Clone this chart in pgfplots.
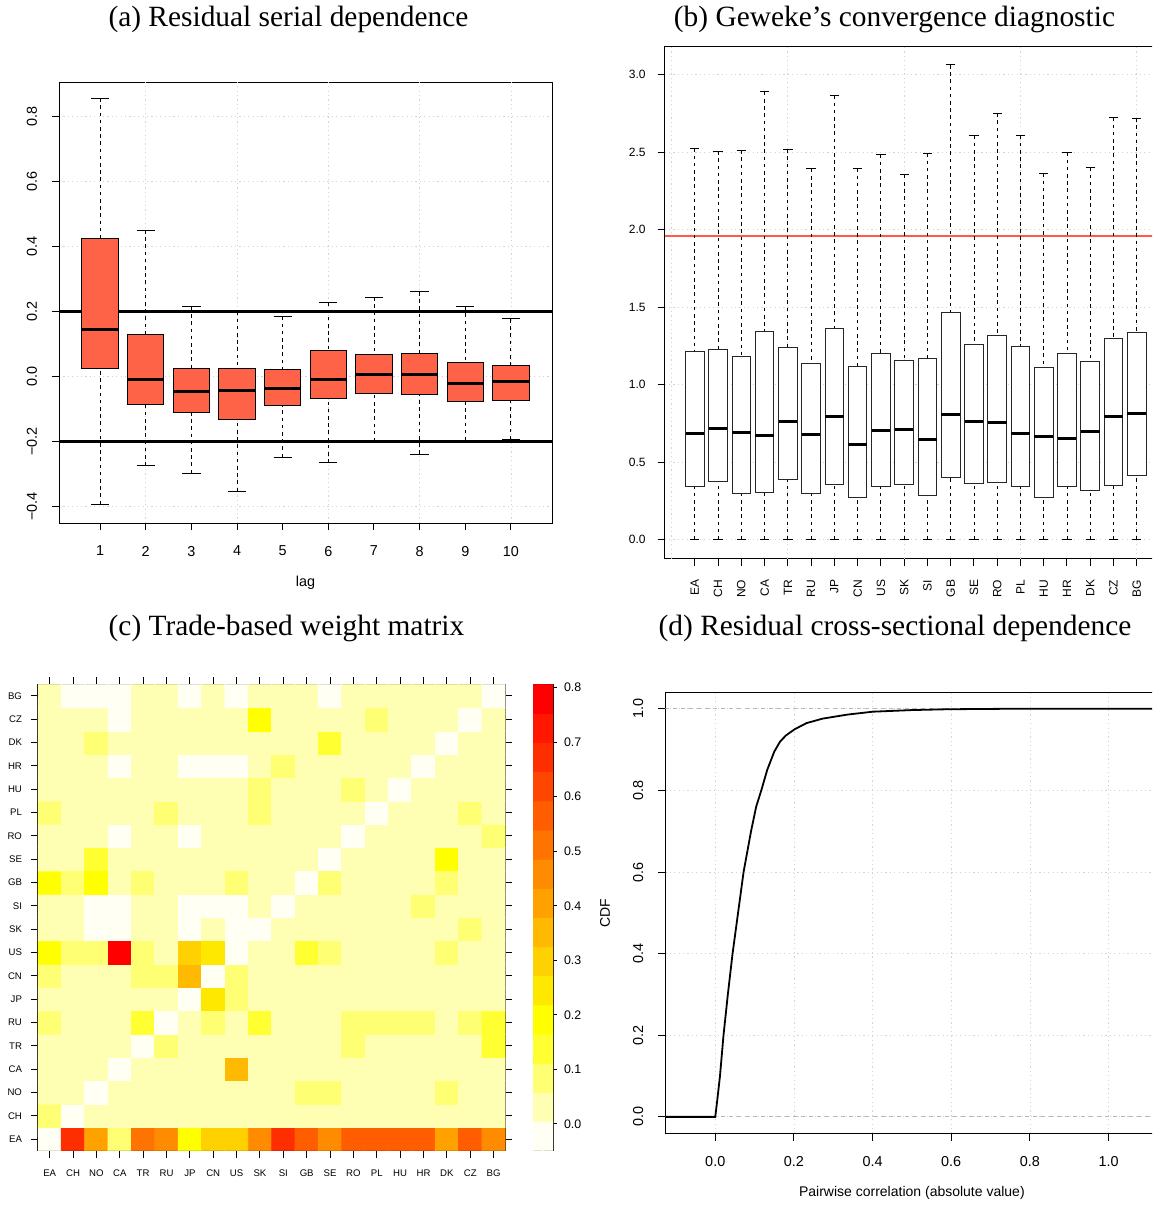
\documentclass[border=0pt]{standalone}
\usepackage{fontspec}
\setmainfont{Liberation Serif}
\setsansfont{Liberation Sans}
\usepackage{pgfplots}
\pgfplotsset{compat=1.18}
\usepgfplotslibrary{statistics}

\definecolor{tomato}{HTML}{FF6347}
\definecolor{gridgray}{HTML}{D3D3D3}
\definecolor{refline}{HTML}{FF5A45}

\newcommand{\ticksize}[1]{\sffamily\fontsize{#1}{#1}\selectfont}

\tikzset{rwhisker/.style={black, line width=0.45pt, dash pattern=on 1.8pt off 1.8pt},
         rcap/.style={black, line width=0.5pt, solid}}

\pgfplotsset{
  colormap={heat}{rgb255=(255,255,243) rgb255=(255,255,180) rgb255=(255,255,115)
    rgb255=(255,255,50) rgb255=(255,255,0) rgb255=(255,232,0) rgb255=(255,209,0)
    rgb255=(255,185,0) rgb255=(255,162,0) rgb255=(255,139,0) rgb255=(255,116,0)
    rgb255=(255,93,0) rgb255=(255,70,0) rgb255=(255,46,0) rgb255=(255,23,0) rgb255=(255,0,0)},
  boxplot/draw/lower whisker/.code={%
    \draw[rwhisker] (boxplot cs:\pgfplotsboxplotvalue{lower whisker})
      -- (boxplot cs:\pgfplotsboxplotvalue{lower quartile});
    \draw[rcap] (boxplot whisker cs:\pgfplotsboxplotvalue{lower whisker},0)
      -- (boxplot whisker cs:\pgfplotsboxplotvalue{lower whisker},1);
  },
  boxplot/draw/upper whisker/.code={%
    \draw[rwhisker] (boxplot cs:\pgfplotsboxplotvalue{upper whisker})
      -- (boxplot cs:\pgfplotsboxplotvalue{upper quartile});
    \draw[rcap] (boxplot whisker cs:\pgfplotsboxplotvalue{upper whisker},0)
      -- (boxplot whisker cs:\pgfplotsboxplotvalue{upper whisker},1);
  },
  rbase/.style={scale only axis, anchor=north west,
    axis line style={black, line width=0.5pt},
    tick align=outside, tick pos=left, major tick length=3.5pt,
    tick style={black, line width=0.5pt},
    grid style={gridgray, line width=0.4pt, dash pattern=on 0.6pt off 1.6pt}},
}

% position, lower whisker, lower quartile, median, upper quartile, upper whisker
\newcommand{\bx}[6]{\addplot[boxplot prepared={draw direction=y, draw position=#1,
  lower whisker=#2, lower quartile=#3, median=#4, upper quartile=#5,
  upper whisker=#6}] coordinates {};}

\begin{document}
\begin{tikzpicture}
\useasboundingbox (0,0) rectangle (576pt,-602.5pt);
\clip (0,0) rectangle (576pt,-602.5pt);

% (a) residual serial dependence
\begin{axis}[rbase, at={(29.5pt,-41pt)}, width=246.5pt, height=220.5pt,
  xmin=0.1, xmax=10.9, ymin=-0.45, ymax=0.905,
  xtick={1,2,3,4,5,6,7,8,9,10},
  xticklabels={1,2,3,4,5,6,7,8,9,10},
  ytick={-0.4,-0.2,0,0.2,0.4,0.6,0.8},
  yticklabels={−0.4,−0.2,0.0,0.2,0.4,0.6,0.8},
  tick label style={font=\ticksize{7.2}}, label style={font=\ticksize{7.2}},
  yticklabel style={rotate=90, anchor=south},
  xticklabel shift=4.5pt, yticklabel shift=4pt,
  ymajorgrids,
  extra x ticks={2,4,6,8,10}, extra x tick labels={},
  extra x tick style={grid=major, major tick length=0pt},
  xlabel={lag}, xlabel style={at={(axis description cs:0.5,-0.136)}, anchor=center},
  boxplot/box extend=0.8, boxplot/whisker extend=0.4,
  boxplot/every box/.style={fill=tomato, draw=black, line width=0.5pt},
  boxplot/every median/.style={black, line width=1.5pt}]
\addplot[black, line width=1.3pt] coordinates {(0.1,0.2) (10.9,0.2)};
\addplot[black, line width=1.3pt] coordinates {(0.1,-0.2) (10.9,-0.2)};
\bx{1}{-0.392}{0.024}{0.146}{0.425}{0.855}
\bx{2}{-0.274}{-0.087}{-0.010}{0.130}{0.450}
\bx{3}{-0.297}{-0.111}{-0.047}{0.024}{0.214}
\bx{4}{-0.352}{-0.132}{-0.043}{0.026}{0.200}
\bx{5}{-0.248}{-0.089}{-0.036}{0.021}{0.185}
\bx{6}{-0.265}{-0.066}{-0.009}{0.079}{0.228}
\bx{7}{-0.200}{-0.052}{0.005}{0.067}{0.244}
\bx{8}{-0.238}{-0.055}{0.007}{0.072}{0.260}
\bx{9}{-0.197}{-0.077}{-0.021}{0.044}{0.216}
\bx{10}{-0.193}{-0.073}{-0.015}{0.033}{0.177}
\end{axis}

% (b) Geweke diagnostic
\begin{axis}[rbase, at={(332.3pt,-23pt)}, width=251.2pt, height=256.3pt,
  xmin=-0.3, xmax=21.3, ymin=-0.122, ymax=3.184,
  xtick={1,2,3,4,5,6,7,8,9,10,11,12,13,14,15,16,17,18,19,20},
  xticklabels={EA,CH,NO,CA,TR,RU,JP,CN,US,SK,SI,GB,SE,RO,PL,HU,HR,DK,CZ,BG},
  ytick={0,0.5,1,1.5,2,2.5,3},
  yticklabels={0.0,0.5,1.0,1.5,2.0,2.5,3.0},
  tick label style={font=\ticksize{6}},
  xticklabel style={rotate=90, anchor=east},
  xticklabel shift=3.5pt, yticklabel shift=2.5pt,
  ymajorgrids,
  extra x ticks={0,5,10,15,20}, extra x tick labels={},
  extra x tick style={grid=major, major tick length=0pt},
  boxplot/box extend=0.8, boxplot/whisker extend=0.4,
  boxplot/every box/.style={fill=white, draw=black!85, line width=0.5pt},
  boxplot/every median/.style={black, line width=1.5pt}]
\addplot[refline, line width=0.8pt] coordinates {(-0.3,1.96) (21.3,1.96)};
\bx{1}{0}{0.346}{0.687}{1.212}{2.523}
\bx{2}{0}{0.376}{0.719}{1.226}{2.505}
\bx{3}{0}{0.300}{0.691}{1.184}{2.512}
\bx{4}{0}{0.306}{0.673}{1.341}{2.889}
\bx{5}{0}{0.385}{0.760}{1.240}{2.518}
\bx{6}{0}{0.295}{0.680}{1.134}{2.392}
\bx{7}{0}{0.355}{0.793}{1.362}{2.866}
\bx{8}{0}{0.274}{0.613}{1.120}{2.394}
\bx{9}{0}{0.346}{0.705}{1.203}{2.484}
\bx{10}{0}{0.357}{0.710}{1.154}{2.353}
\bx{11}{0}{0.286}{0.647}{1.168}{2.491}
\bx{12}{0}{0.403}{0.806}{1.465}{3.062}
\bx{13}{0}{0.364}{0.763}{1.260}{2.606}
\bx{14}{0}{0.371}{0.756}{1.320}{2.751}
\bx{15}{0}{0.346}{0.684}{1.249}{2.606}
\bx{16}{0}{0.274}{0.666}{1.108}{2.362}
\bx{17}{0}{0.343}{0.654}{1.203}{2.498}
\bx{18}{0}{0.318}{0.696}{1.147}{2.401}
\bx{19}{0}{0.350}{0.793}{1.297}{2.723}
\bx{20}{0}{0.412}{0.813}{1.334}{2.719}
\end{axis}

% (c) trade-based weight matrix
\begin{axis}[scale only axis, anchor=north west, at={(19pt,-342.15pt)},
  width=233.65pt, height=233.2pt,
  xmin=-0.5, xmax=19.5, ymin=-0.5, ymax=19.5,
  axis line style={black, line width=0.5pt},
  tick align=outside, xtick pos=both, ytick pos=both,
  major tick length=3.5pt, tick style={black, line width=0.5pt},
  xtick={0,1,2,3,4,5,6,7,8,9,10,11,12,13,14,15,16,17,18,19},
  ytick={0,1,2,3,4,5,6,7,8,9,10,11,12,13,14,15,16,17,18,19},
  xticklabels={EA,CH,NO,CA,TR,RU,JP,CN,US,SK,SI,GB,SE,RO,PL,HU,HR,DK,CZ,BG},
  yticklabels={EA,CH,NO,CA,TR,RU,JP,CN,US,SK,SI,GB,SE,RO,PL,HU,HR,DK,CZ,BG},
  tick label style={font=\ticksize{4.8}},
  xticklabel shift=2.4pt, yticklabel shift=1pt,
  colormap name=heat, point meta min=0, point meta max=0.78]
\addplot[matrix plot*, mesh/cols=20, point meta=explicit] coordinates {
(0,0)[0] (1,0)[0.676] (2,0)[0.416] (3,0)[0.104] (4,0)[0.52] (5,0)[0.468] (6,0)[0.208] (7,0)[0.312] (8,0)[0.312] (9,0)[0.468] (10,0)[0.676] (11,0)[0.572] (12,0)[0.468] (13,0)[0.572] (14,0)[0.572] (15,0)[0.572] (16,0)[0.572] (17,0)[0.416] (18,0)[0.572] (19,0)[0.468]
(0,1)[0.104] (1,1)[0] (2,1)[0.052] (3,1)[0.052] (4,1)[0.052] (5,1)[0.052] (6,1)[0.052] (7,1)[0.052] (8,1)[0.052] (9,1)[0.052] (10,1)[0.052] (11,1)[0.052] (12,1)[0.052] (13,1)[0.052] (14,1)[0.052] (15,1)[0.052] (16,1)[0.052] (17,1)[0.052] (18,1)[0.052] (19,1)[0.052]
(0,2)[0.052] (1,2)[0.052] (2,2)[0] (3,2)[0.052] (4,2)[0.052] (5,2)[0.052] (6,2)[0.052] (7,2)[0.052] (8,2)[0.052] (9,2)[0.052] (10,2)[0.052] (11,2)[0.104] (12,2)[0.104] (13,2)[0.052] (14,2)[0.052] (15,2)[0.052] (16,2)[0.052] (17,2)[0.104] (18,2)[0.052] (19,2)[0.052]
(0,3)[0.052] (1,3)[0.052] (2,3)[0.052] (3,3)[0] (4,3)[0.052] (5,3)[0.052] (6,3)[0.052] (7,3)[0.052] (8,3)[0.364] (9,3)[0.052] (10,3)[0.052] (11,3)[0.052] (12,3)[0.052] (13,3)[0.052] (14,3)[0.052] (15,3)[0.052] (16,3)[0.052] (17,3)[0.052] (18,3)[0.052] (19,3)[0.052]
(0,4)[0.052] (1,4)[0.052] (2,4)[0.052] (3,4)[0.052] (4,4)[0] (5,4)[0.104] (6,4)[0.052] (7,4)[0.052] (8,4)[0.052] (9,4)[0.052] (10,4)[0.052] (11,4)[0.052] (12,4)[0.052] (13,4)[0.104] (14,4)[0.052] (15,4)[0.052] (16,4)[0.052] (17,4)[0.052] (18,4)[0.052] (19,4)[0.156]
(0,5)[0.104] (1,5)[0.052] (2,5)[0.052] (3,5)[0.052] (4,5)[0.156] (5,5)[0] (6,5)[0.052] (7,5)[0.104] (8,5)[0.052] (9,5)[0.156] (10,5)[0.052] (11,5)[0.052] (12,5)[0.052] (13,5)[0.104] (14,5)[0.104] (15,5)[0.104] (16,5)[0.104] (17,5)[0.052] (18,5)[0.104] (19,5)[0.156]
(0,6)[0.052] (1,6)[0.052] (2,6)[0.052] (3,6)[0.052] (4,6)[0.052] (5,6)[0.052] (6,6)[0] (7,6)[0.26] (8,6)[0.104] (9,6)[0.052] (10,6)[0.052] (11,6)[0.052] (12,6)[0.052] (13,6)[0.052] (14,6)[0.052] (15,6)[0.052] (16,6)[0.052] (17,6)[0.052] (18,6)[0.052] (19,6)[0.052]
(0,7)[0.104] (1,7)[0.052] (2,7)[0.052] (3,7)[0.052] (4,7)[0.104] (5,7)[0.104] (6,7)[0.364] (7,7)[0] (8,7)[0.104] (9,7)[0.052] (10,7)[0.052] (11,7)[0.052] (12,7)[0.052] (13,7)[0.052] (14,7)[0.052] (15,7)[0.052] (16,7)[0.052] (17,7)[0.052] (18,7)[0.052] (19,7)[0.052]
(0,8)[0.208] (1,8)[0.104] (2,8)[0.104] (3,8)[0.78] (4,8)[0.104] (5,8)[0.052] (6,8)[0.312] (7,8)[0.26] (8,8)[0] (9,8)[0.052] (10,8)[0.052] (11,8)[0.156] (12,8)[0.104] (13,8)[0.052] (14,8)[0.052] (15,8)[0.052] (16,8)[0.052] (17,8)[0.104] (18,8)[0.052] (19,8)[0.052]
(0,9)[0.052] (1,9)[0.052] (2,9)[0] (3,9)[0] (4,9)[0.052] (5,9)[0.052] (6,9)[0] (7,9)[0.052] (8,9)[0] (9,9)[0] (10,9)[0.052] (11,9)[0.052] (12,9)[0.052] (13,9)[0.052] (14,9)[0.052] (15,9)[0.052] (16,9)[0.052] (17,9)[0.052] (18,9)[0.104] (19,9)[0.052]
(0,10)[0.052] (1,10)[0.052] (2,10)[0] (3,10)[0] (4,10)[0.052] (5,10)[0.052] (6,10)[0] (7,10)[0] (8,10)[0] (9,10)[0.052] (10,10)[0] (11,10)[0.052] (12,10)[0.052] (13,10)[0.052] (14,10)[0.052] (15,10)[0.052] (16,10)[0.104] (17,10)[0.052] (18,10)[0.052] (19,10)[0.052]
(0,11)[0.208] (1,11)[0.104] (2,11)[0.208] (3,11)[0.052] (4,11)[0.104] (5,11)[0.052] (6,11)[0.052] (7,11)[0.052] (8,11)[0.104] (9,11)[0.052] (10,11)[0.052] (11,11)[0] (12,11)[0.104] (13,11)[0.052] (14,11)[0.052] (15,11)[0.052] (16,11)[0.052] (17,11)[0.104] (18,11)[0.052] (19,11)[0.052]
(0,12)[0.052] (1,12)[0.052] (2,12)[0.156] (3,12)[0.052] (4,12)[0.052] (5,12)[0.052] (6,12)[0.052] (7,12)[0.052] (8,12)[0.052] (9,12)[0.052] (10,12)[0.052] (11,12)[0.052] (12,12)[0] (13,12)[0.052] (14,12)[0.052] (15,12)[0.052] (16,12)[0.052] (17,12)[0.208] (18,12)[0.052] (19,12)[0.052]
(0,13)[0.052] (1,13)[0.052] (2,13)[0.052] (3,13)[0] (4,13)[0.052] (5,13)[0.052] (6,13)[0] (7,13)[0.052] (8,13)[0.052] (9,13)[0.052] (10,13)[0.052] (11,13)[0.052] (12,13)[0.052] (13,13)[0] (14,13)[0.052] (15,13)[0.052] (16,13)[0.052] (17,13)[0.052] (18,13)[0.052] (19,13)[0.104]
(0,14)[0.104] (1,14)[0.052] (2,14)[0.052] (3,14)[0.052] (4,14)[0.052] (5,14)[0.104] (6,14)[0.052] (7,14)[0.052] (8,14)[0.052] (9,14)[0.104] (10,14)[0.052] (11,14)[0.052] (12,14)[0.052] (13,14)[0.052] (14,14)[0] (15,14)[0.052] (16,14)[0.052] (17,14)[0.052] (18,14)[0.104] (19,14)[0.052]
(0,15)[0.052] (1,15)[0.052] (2,15)[0.052] (3,15)[0.052] (4,15)[0.052] (5,15)[0.052] (6,15)[0.052] (7,15)[0.052] (8,15)[0.052] (9,15)[0.104] (10,15)[0.052] (11,15)[0.052] (12,15)[0.052] (13,15)[0.104] (14,15)[0.052] (15,15)[0] (16,15)[0.052] (17,15)[0.052] (18,15)[0.052] (19,15)[0.052]
(0,16)[0.052] (1,16)[0.052] (2,16)[0.052] (3,16)[0] (4,16)[0.052] (5,16)[0.052] (6,16)[0] (7,16)[0] (8,16)[0] (9,16)[0.052] (10,16)[0.104] (11,16)[0.052] (12,16)[0.052] (13,16)[0.052] (14,16)[0.052] (15,16)[0.052] (16,16)[0] (17,16)[0.052] (18,16)[0.052] (19,16)[0.052]
(0,17)[0.052] (1,17)[0.052] (2,17)[0.104] (3,17)[0.052] (4,17)[0.052] (5,17)[0.052] (6,17)[0.052] (7,17)[0.052] (8,17)[0.052] (9,17)[0.052] (10,17)[0.052] (11,17)[0.052] (12,17)[0.156] (13,17)[0.052] (14,17)[0.052] (15,17)[0.052] (16,17)[0.052] (17,17)[0] (18,17)[0.052] (19,17)[0.052]
(0,18)[0.052] (1,18)[0.052] (2,18)[0.052] (3,18)[0] (4,18)[0.052] (5,18)[0.052] (6,18)[0.052] (7,18)[0.052] (8,18)[0.052] (9,18)[0.208] (10,18)[0.052] (11,18)[0.052] (12,18)[0.052] (13,18)[0.052] (14,18)[0.104] (15,18)[0.052] (16,18)[0.052] (17,18)[0.052] (18,18)[0] (19,18)[0.052]
(0,19)[0.052] (1,19)[0] (2,19)[0] (3,19)[0] (4,19)[0.052] (5,19)[0.052] (6,19)[0] (7,19)[0.052] (8,19)[0] (9,19)[0.052] (10,19)[0.052] (11,19)[0.052] (12,19)[0] (13,19)[0.052] (14,19)[0.052] (15,19)[0.052] (16,19)[0.052] (17,19)[0.052] (18,19)[0.052] (19,19)[0]
};
\end{axis}

% colour key
\begin{axis}[scale only axis, anchor=north west, at={(266.5pt,-342.15pt)},
  width=10pt, height=233.2pt,
  xmin=-0.5, xmax=1.5, ymin=-0.049, ymax=0.806,
  axis line style={black, line width=0.5pt},
  xtick=\empty, ytick={0,0.1,0.2,0.3,0.4,0.5,0.6,0.7,0.8},
  yticklabels={0.0,0.1,0.2,0.3,0.4,0.5,0.6,0.7,0.8},
  ytick pos=right, yticklabel pos=right, tick align=outside,
  major tick length=2pt, tick style={black, line width=0.5pt},
  tick label style={font=\ticksize{6.2}},
  colormap name=heat, point meta min=0, point meta max=0.78]
\addplot[matrix plot*, mesh/cols=2, point meta=explicit] coordinates {
(0,-0.0223)[0] (1,-0.0223)[0]
(0,0.0312)[0.052] (1,0.0312)[0.052]
(0,0.0846)[0.104] (1,0.0846)[0.104]
(0,0.1380)[0.156] (1,0.1380)[0.156]
(0,0.1915)[0.208] (1,0.1915)[0.208]
(0,0.2449)[0.26] (1,0.2449)[0.26]
(0,0.2984)[0.312] (1,0.2984)[0.312]
(0,0.3518)[0.364] (1,0.3518)[0.364]
(0,0.4052)[0.416] (1,0.4052)[0.416]
(0,0.4587)[0.468] (1,0.4587)[0.468]
(0,0.5121)[0.52] (1,0.5121)[0.52]
(0,0.5655)[0.572] (1,0.5655)[0.572]
(0,0.6190)[0.624] (1,0.6190)[0.624]
(0,0.6724)[0.676] (1,0.6724)[0.676]
(0,0.7259)[0.728] (1,0.7259)[0.728]
(0,0.7793)[0.78] (1,0.7793)[0.78]
};
\end{axis}

% (d) residual cross-sectional dependence
\begin{axis}[rbase, at={(332.65pt,-346.35pt)}, width=246.6pt, height=220.45pt,
  xmin=-0.127, xmax=1.127, ymin=-0.041, ymax=1.0395,
  xtick={0,0.2,0.4,0.6,0.8,1}, xticklabels={0.0,0.2,0.4,0.6,0.8,1.0},
  ytick={0,0.2,0.4,0.6,0.8,1}, yticklabels={0.0,0.2,0.4,0.6,0.8,1.0},
  tick label style={font=\ticksize{7.2}}, label style={font=\ticksize{7}},
  yticklabel style={rotate=90, anchor=south},
  xticklabel shift=4.2pt, yticklabel shift=4pt,
  grid=major,
  xlabel={Pairwise correlation (absolute value)},
  xlabel style={at={(axis description cs:0.5,-0.135)}, anchor=center},
  ylabel={CDF},
  ylabel style={at={(axis description cs:-0.122,0.5)}, anchor=center}]
\addplot[gray!55, line width=0.5pt, dash pattern=on 2pt off 2pt] coordinates {(-0.127,0) (1.127,0)};
\addplot[gray!55, line width=0.5pt, dash pattern=on 2pt off 2pt] coordinates {(-0.127,1) (1.127,1)};
\addplot[black, line width=0.9pt] coordinates {
(-0.127,0) (0,0) (0.005,0.04) (0.012,0.1) (0.021,0.2) (0.032,0.3) (0.044,0.4)
(0.058,0.5) (0.072,0.6) (0.091,0.7) (0.104,0.76) (0.117,0.8) (0.132,0.85)
(0.150,0.895) (0.165,0.92) (0.180,0.935) (0.202,0.95) (0.232,0.965) (0.273,0.976)
(0.337,0.986) (0.401,0.993) (0.501,0.997) (0.593,0.999) (0.73,1.0) (1.2,1.0)};
\end{axis}

\node[font=\fontsize{14.7}{17}\selectfont, inner sep=0pt] at (144.25pt,-9.5pt) {(a) Residual serial dependence};
\node[font=\fontsize{14.7}{17}\selectfont, inner sep=0pt] at (447.25pt,-9.5pt) {(b) Geweke’s convergence diagnostic};
\node[font=\fontsize{14.7}{17}\selectfont, inner sep=0pt] at (143.25pt,-314pt) {(c) Trade-based weight matrix};
\node[font=\fontsize{14.7}{17}\selectfont, inner sep=0pt] at (447.5pt,-314pt) {(d) Residual cross-sectional dependence};
\end{tikzpicture}
\end{document}
